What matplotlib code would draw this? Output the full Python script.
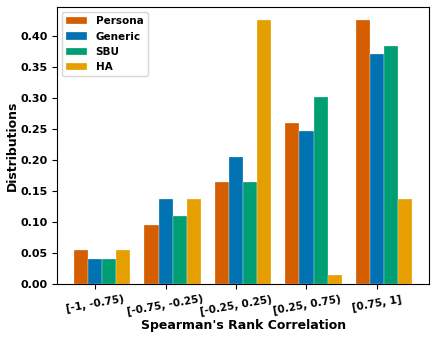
import matplotlib
matplotlib.use("Agg")
import matplotlib.pyplot as plt
import numpy as np

plt.rcParams['font.weight'] = 'bold'
plt.rcParams['axes.labelweight'] = 'bold'

# bins of the rank correlation
bins = ['[-1, -0.75)', '[-0.75, -0.25)', '[-0.25, 0.25)', '[0.25, 0.75)', '[0.75, 1]']

persona = [0.055, 0.096, 0.164, 0.260, 0.425]
generic = [0.041, 0.137, 0.205, 0.247, 0.370]
sbu = [0.041, 0.110, 0.164, 0.301, 0.384]
ha = [0.055, 0.137, 0.425, 0.014, 0.137]

series = [('Persona', persona, '#D55E00'),
          ('Generic', generic, '#0072B2'),
          ('SBU', sbu, '#009E73'),
          ('HA', ha, '#E69F00')]

fig, ax = plt.subplots(figsize=(4.36, 3.39), dpi=100)
x = np.arange(len(bins))
w = 0.2
for i, (name, vals, col) in enumerate(series):
    ax.bar(x + (i - 1) * w, vals, w, label=name, color=col,
           edgecolor='white', linewidth=0.2)

ax.set_xticks(x)
ax.set_xticklabels(bins, rotation=10, fontsize=7.5)
ax.tick_params(axis='y', labelsize=8)
ax.set_xlabel("Spearman's Rank Correlation", fontsize=9, labelpad=1)
ax.set_ylabel("Distributions", fontsize=9, labelpad=1)
ax.legend(loc='upper left', fontsize=7.5)

fig.subplots_adjust(left=0.131, right=0.984, bottom=0.162, top=0.979)
fig.savefig('out.png')
